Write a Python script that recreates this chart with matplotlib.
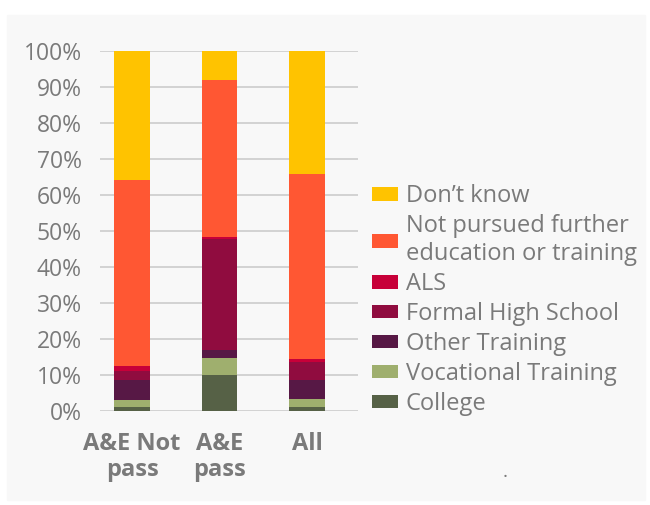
import matplotlib.pyplot as plt
from matplotlib.patches import Rectangle

groups = ['A&E Not\npass', 'A&E\npass', 'All']
categories = ['College', 'Vocational Training', 'Other Training', 'Formal High School',
              'ALS', 'Not pursued further\neducation or training', "Don\u2019t know"]
colors = ['#566146', '#9FAF6E', '#571845', '#900C3F', '#C70039', '#FF5733', '#FFC300']

college = [1.1, 10.0, 1.1]
vocational = [2.0, 4.7, 2.2]
other_training = [5.5, 2.2, 5.3]
formal_hs = [2.5, 30.9, 5.1]
als = [1.4, 0.5, 0.7]
not_pursued = [51.7, 43.6, 51.4]
dont_know = [35.8, 8.1, 34.2]
series = [college, vocational, other_training, formal_hs, als, not_pursued, dont_know]

plt.rcParams['font.family'] = ['Open Sans', 'DejaVu Sans']
text_col = '#7a7a7a'
bg = '#f8f8f8'

fig = plt.figure(figsize=(6.5, 5.05), dpi=100, facecolor='white')
fig.patches.append(Rectangle((7 / 650, 5 / 505), 638 / 650, 485 / 505,
                             transform=fig.transFigure, color=bg, zorder=-1))
ax = fig.add_axes([100 / 650, 94 / 505, 258 / 650, 360 / 505])
ax.set_facecolor(bg)

x = range(len(groups))
bottom = [0, 0, 0]
handles = []
for vals, col, lab in zip(series, colors, categories):
    b = ax.bar(x, vals, 0.41, bottom=bottom, color=col, label=lab, zorder=3)
    handles.append(b)
    bottom = [a + v for a, v in zip(bottom, vals)]

ax.set_ylim(0, 100)
ax.set_xlim(-0.366, 2.583)
ax.set_yticks(range(0, 101, 10))
ax.set_yticklabels(['%d%%' % t for t in range(0, 101, 10)], color=text_col, fontsize=16.5)
ax.set_xticks(list(x))
ax.set_xticklabels(groups, color=text_col, fontsize=17, fontweight='bold', linespacing=1.1)
ax.tick_params(axis='y', length=0, pad=13)
ax.tick_params(axis='x', length=0, pad=15)
ax.grid(axis='y', color='#cccccc', linewidth=1.2, zorder=0)
for s in ax.spines.values():
    s.set_visible(False)

leg = fig.legend(handles[::-1], categories[::-1], loc='upper left',
                 bbox_to_anchor=(363 / 650, 1 - 175 / 505), frameon=False,
                 fontsize=17, handlelength=1.1, handleheight=0.5, handletextpad=0.3,
                 labelspacing=0.25, borderaxespad=0)
for t in leg.get_texts():
    t.set_color(text_col)
    t.set_linespacing(1.22)

fig.text(505 / 650, 1 - 477 / 505, '.', color=text_col, fontsize=14, ha='center')

fig.savefig('out.png', dpi=100, facecolor='white')
